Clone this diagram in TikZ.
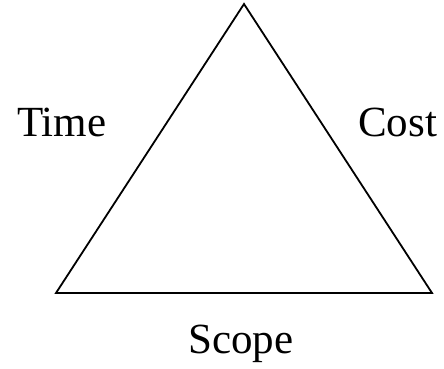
\documentclass[tikz,border=0pt]{standalone}
\usepackage{fontspec}
\setmainfont{Liberation Serif}
\begin{document}
\begin{tikzpicture}[x=1pt,y=1pt,
  lbl/.style={inner sep=0pt, font=\fontsize{43}{50}\selectfont},
  edge/.style={line width=1.8pt, line join=miter}]
\useasboundingbox (0,0) rectangle (444,368);
\coordinate (top) at (244,364);
\coordinate (bl) at (56,75);
\coordinate (br) at (432,75);
\draw[edge] (top) -- (bl) -- (br) -- cycle;
\node[lbl, anchor=base west] (time) at (17,232) {Time};
\node[lbl, anchor=base west] (cost) at (358,232) {Cost};
\node[lbl, anchor=base west] (scope) at (188,15) {Scope};
\end{tikzpicture}
\end{document}
